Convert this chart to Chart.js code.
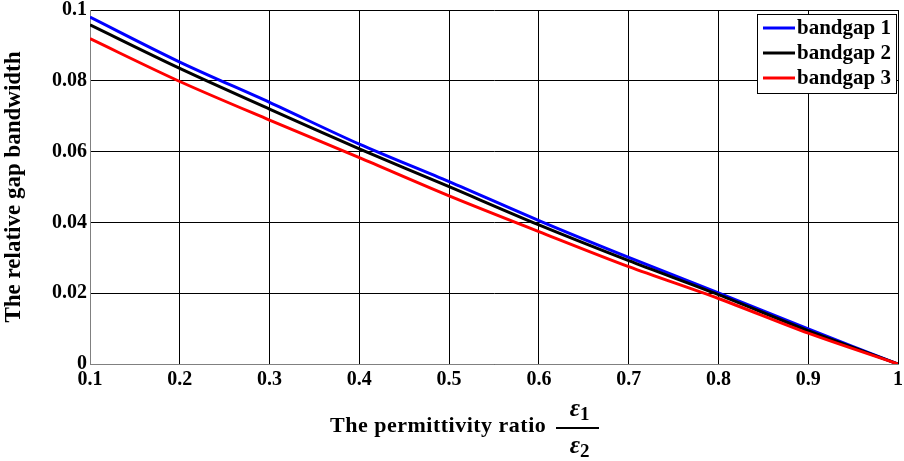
<!DOCTYPE html>
<html>
<head>
<meta charset="utf-8">
<script src="https://cdn.jsdelivr.net/npm/chart.js@4"></script>
<style>
    html, body { margin: 0; padding: 0; background: #fff; }
    #chart { display: block; }
</style>
</head>
<body>
<canvas id="chart" width="904" height="461"></canvas>
<script>
// permittivity ratio eps1/eps2
const ratios = [0.1, 0.2, 0.3, 0.4, 0.5, 0.6, 0.7, 0.8, 0.9, 1.0];

// relative gap bandwidth
const bandgap1 = [0.0980, 0.0853, 0.0739, 0.0621, 0.0515, 0.0405, 0.0301, 0.0201, 0.0099, 0];
const bandgap2 = [0.0958, 0.0835, 0.0720, 0.0608, 0.0501, 0.0393, 0.0292, 0.0196, 0.0094, 0];
const bandgap3 = [0.0919, 0.0798, 0.0689, 0.0583, 0.0475, 0.0374, 0.0275, 0.0185, 0.0087, 0];

const seriesNames = ["bandgap 1", "bandgap 2", "bandgap 3"];
const seriesColors = ["#0000ff", "#000000", "#ff0000"];

const xTitle = "The permittivity ratio";
const yTitle = "The relative gap bandwidth";

const serif = "'Liberation Serif', 'Times New Roman', serif";

function toPoints(values) {
    return ratios.map((r, i) => ({ x: r, y: values[i] }));
}

// =======================
// LEGEND + X TITLE
// =======================
const extrasPlugin = {
    id: "extras",
    afterDraw(chart) {
        const ctx = chart.ctx;
        const area = chart.chartArea;
        ctx.save();

        // legend box in upper right
        const boxX = area.right - 141, boxY = area.top + 4, boxW = 139, boxH = 79;
        ctx.fillStyle = "#fff";
        ctx.fillRect(boxX, boxY, boxW, boxH);
        ctx.strokeStyle = "#000";
        ctx.lineWidth = 1;
        ctx.strokeRect(boxX + 0.5, boxY + 0.5, boxW, boxH);

        ctx.font = "bold 21px " + serif;
        ctx.textBaseline = "middle";
        seriesNames.forEach((name, i) => {
            const y = boxY + 14 + i * 25;
            ctx.strokeStyle = seriesColors[i];
            ctx.lineWidth = 3;
            ctx.beginPath();
            ctx.moveTo(boxX + 6, y);
            ctx.lineTo(boxX + 38, y);
            ctx.stroke();
            ctx.fillStyle = "#000";
            ctx.fillText(name, boxX + 40, y + 1);
        });

        // x axis title with eps1/eps2 fraction
        ctx.fillStyle = "#000";
        ctx.textBaseline = "alphabetic";
        ctx.font = "bold 22px " + serif;
        ctx.letterSpacing = "0.5px";
        ctx.fillText(xTitle, 330, 432);
        ctx.letterSpacing = "0px";

        const fx = 578;
        ctx.font = "italic bold 25px " + serif;
        ctx.textAlign = "right";
        ctx.fillText("\u03b5", fx + 2, 416);
        ctx.fillText("\u03b5", fx + 2, 453);
        ctx.textAlign = "left";
        ctx.font = "bold 19px " + serif;
        ctx.fillText("1", fx + 2, 420);
        ctx.fillText("2", fx + 2, 457);

        ctx.strokeStyle = "#000";
        ctx.lineWidth = 2;
        ctx.beginPath();
        ctx.moveTo(fx - 22, 428);
        ctx.lineTo(fx + 21, 428);
        ctx.stroke();

        ctx.restore();
    }
};

// =======================
// CHART
// =======================
const ctx = document.getElementById("chart").getContext("2d");

new Chart(ctx, {
    type: "line",
    data: {
        datasets: [bandgap1, bandgap2, bandgap3].map((vals, i) => ({
            label: seriesNames[i],
            data: toPoints(vals),
            borderColor: seriesColors[i],
            borderWidth: 3,
            pointRadius: 0,
            tension: 0.3,
            fill: false,
            order: 2 - i
        }))
    },
    options: {
        responsive: false,
        animation: false,
        layout: {
            padding: { top: 10, right: 6, left: 0, bottom: 0 }
        },
        plugins: {
            legend: { display: false },
            tooltip: { enabled: false }
        },
        scales: {
            x: {
                type: "linear",
                min: 0.1,
                max: 1,
                ticks: {
                    stepSize: 0.1,
                    color: "#000",
                    padding: 4,
                    maxRotation: 0,
                    font: { family: serif, size: 20, weight: "bold" },
                    callback: (v) => Number(v.toFixed(1)).toString()
                },
                grid: {
                    color: "#000",
                    lineWidth: 1,
                    drawTicks: false
                },
                border: { color: "#808080", width: 1 },
                afterFit: (scale) => {
                    scale.height = 97;
                    scale.paddingLeft = 0;
                    scale.paddingRight = 0;
                }
            },
            y: {
                min: 0,
                max: 0.1,
                ticks: {
                    stepSize: 0.02,
                    color: "#000",
                    padding: 3,
                    font: { family: serif, size: 20, weight: "bold" },
                    callback: (v) => Number(v.toFixed(2)).toString()
                },
                grid: {
                    color: "#000",
                    lineWidth: 1,
                    drawTicks: false
                },
                border: { color: "#808080", width: 1 },
                title: {
                    display: true,
                    text: yTitle,
                    color: "#000",
                    padding: { top: 0, bottom: 2 },
                    font: { family: serif, size: 23, weight: "bold" }
                },
                afterFit: (scale) => {
                    scale.width = 90;
                    scale.paddingTop = 0;
                    scale.paddingBottom = 0;
                }
            }
        }
    },
    plugins: [extrasPlugin]
});
</script>
</body>
</html>
